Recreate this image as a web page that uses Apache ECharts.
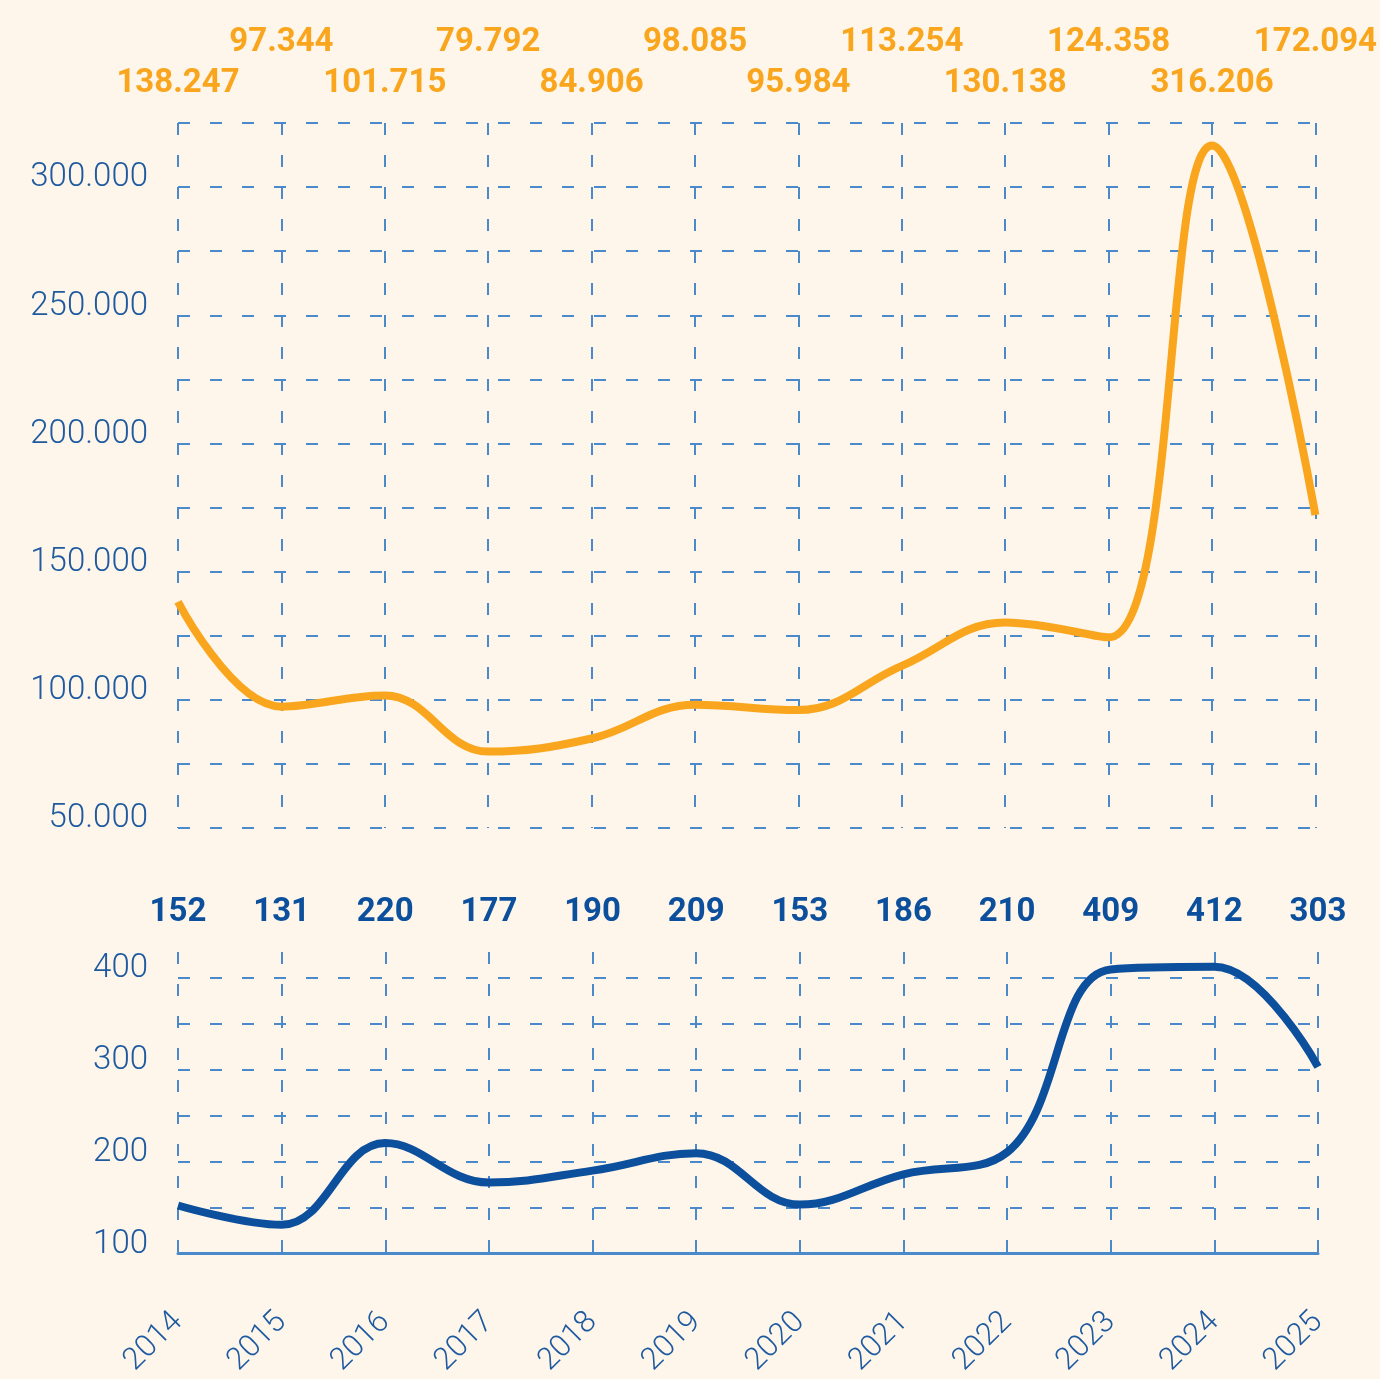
<!DOCTYPE html>
<html>
<head>
<meta charset="utf-8">
<script src="https://cdn.jsdelivr.net/npm/echarts@6/dist/echarts.min.js"></script>
<style>
  html, body { margin: 0; padding: 0; background: #fef6ea; }
  #chart { width: 1380px; height: 1379px; }
</style>
</head>
<body>
<div id="chart"></div>
<script>
// Years along the shared horizontal axis
const years = ['2014', '2015', '2016', '2017', '2018', '2019', '2020', '2021', '2022', '2023', '2024', '2025'];
// Upper panel: yearly totals
const totals = [138247, 97344, 101715, 79792, 84906, 98085, 95984, 113254, 130138, 124358, 316206, 172094];
// Lower panel: yearly counts
const counts = [152, 131, 220, 177, 190, 209, 153, 186, 210, 409, 412, 303];
// Labelled ticks on each value axis
const totalTicks = [50000, 100000, 150000, 200000, 250000, 300000];
const countTicks = [100, 200, 300, 400];

const ORANGE = '#f9a61e';
const NAVY = '#0c4f9c';
const AXIS_TXT = '#1f5aa0';
const GRID = '#4a8acb';
const FONT = 'Roboto';

// 138247 -> "138.247"
function dotted(v) {
  return String(Math.round(v)).replace(/\B(?=(\d{3})+(?!\d))/g, '.');
}

const dashed = { show: true, lineStyle: { color: GRID, width: 2, type: [12, 20] } };

const chart = echarts.init(document.getElementById('chart'), null, { renderer: 'canvas' });

chart.setOption({
  backgroundColor: '#fef6ea',
  animation: false,
  textStyle: { fontFamily: FONT },
  grid: [
    { left: 178, right: 62, top: 123, height: 705 },
    { left: 178, right: 62, top: 952, height: 302 }
  ],
  xAxis: [
    {
      gridIndex: 0, type: 'category', position: 'top', boundaryGap: false, data: years,
      axisLine: { show: false }, axisTick: { show: false },
      axisLabel: {
        interval: 0, margin: 19, color: ORANGE, fontFamily: FONT, fontWeight: 'bold', fontSize: 33,
        lineHeight: 41,
        formatter: (v, i) => dotted(totals[i]) + (i % 2 ? '\n ' : '')
      },
      splitLine: dashed
    },
    {
      gridIndex: 1, type: 'category', position: 'bottom', boundaryGap: false, data: years,
      axisLine: { show: true, lineStyle: { color: GRID, width: 3 } },
      axisTick: { show: false },
      axisLabel: { interval: 0, rotate: 45, margin: 64, color: AXIS_TXT, fontFamily: FONT, fontWeight: 300, fontSize: 31 },
      splitLine: dashed
    },
    {
      gridIndex: 1, type: 'category', position: 'top', boundaryGap: false, data: years,
      axisLine: { show: false }, axisTick: { show: false },
      axisLabel: {
        interval: 0, margin: 23, color: NAVY, fontFamily: FONT, fontWeight: 'bold', fontSize: 33,
        formatter: (v, i) => String(counts[i])
      },
      splitLine: { show: false }
    }
  ],
  yAxis: [
    {
      gridIndex: 0, type: 'value', min: 50000, max: 325000, interval: 25000,
      axisLine: { show: false }, axisTick: { show: false },
      axisLabel: {
        margin: 30, color: AXIS_TXT, fontFamily: FONT, fontWeight: 300, fontSize: 33,
        verticalAlign: 'bottom', lineHeight: 18,
        formatter: v => totalTicks.includes(v) ? dotted(v) : ''
      },
      splitLine: dashed
    },
    {
      gridIndex: 1, type: 'value', min: 100, max: 428, interval: 50,
      axisLine: { show: false }, axisTick: { show: false },
      axisLabel: {
        margin: 30, color: AXIS_TXT, fontFamily: FONT, fontWeight: 300, fontSize: 33,
        verticalAlign: 'bottom', lineHeight: 18,
        showMaxLabel: false,
        formatter: v => countTicks.includes(v) ? String(v) : ''
      },
      splitLine: Object.assign({ showMaxLine: false }, dashed)
    }
  ],
  series: [
    {
      type: 'line', xAxisIndex: 0, yAxisIndex: 0, data: totals, smooth: 0.4,
      symbol: 'none', lineStyle: { color: ORANGE, width: 8 }
    },
    {
      type: 'line', xAxisIndex: 1, yAxisIndex: 1, data: counts, smooth: 0.4,
      symbol: 'none', lineStyle: { color: NAVY, width: 8 }
    }
  ]
});
</script>
</body>
</html>
